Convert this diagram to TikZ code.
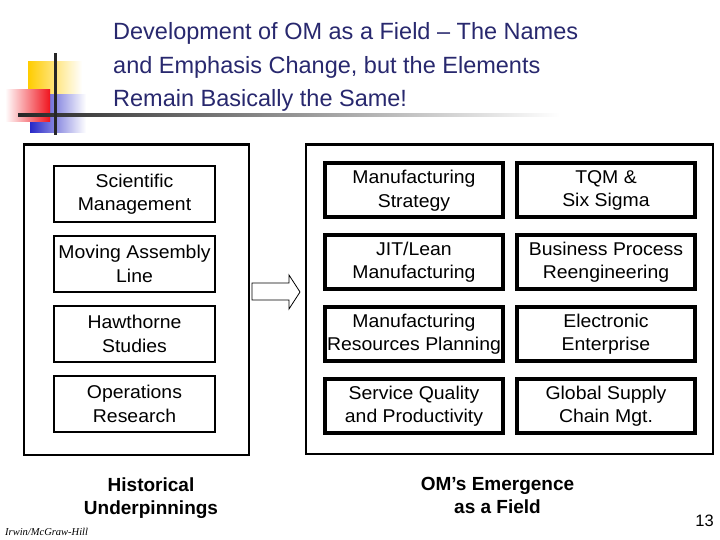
\documentclass[tikz,border=0pt]{standalone}
\usepackage{fontspec}
\setmainfont{Liberation Sans}
\newfontfamily\boxfont[FakeStretch=1.05]{Liberation Sans}
\newfontfamily\credfont{Liberation Serif}
\definecolor{titleblue}{RGB}{40,40,110}
\definecolor{logoyellow}{RGB}{255,204,0}
\definecolor{logored}{RGB}{240,20,30}
\definecolor{logoblue}{RGB}{40,40,200}
\begin{document}
\begin{tikzpicture}[x=1pt,y=-1pt,
  frame/.style={draw, line width=2.2pt},
  oldbox/.style={draw, line width=1.6pt, minimum width=161.5pt, minimum height=56.5pt,
    align=center, inner sep=0pt, font=\boxfont\fontsize{18.5}{23.5}\selectfont},
  newbox/.style={draw, line width=4pt, minimum width=178pt, minimum height=54pt,
    align=center, inner sep=0pt, font=\boxfont\fontsize{18.5}{23.5}\selectfont},
  titletext/.style={anchor=base west, inner sep=0pt, text=titleblue, font=\fontsize{23.5}{30}\selectfont},
  caption/.style={align=center, inner sep=0pt, font=\bfseries\fontsize{19}{23}\selectfont}]
\useasboundingbox[fill=white] (0,0) rectangle (720,540);

% logo
\shade[left color=logoyellow, right color=white] (28,62) rectangle (82,96);
\shade[left color=logoblue, right color=white] (30,95) rectangle (86,133);
\shade[left color=white, right color=logored] (5,90) rectangle (50,122);
\shade[left color=black!85, right color=white] (18,114) rectangle (560,117);
\fill[black!85] (53.5,53) rectangle (56.5,135);

% title
\node[titletext] (t1) at (113,40) {Development of OM as a Field -- The Names};
\node[titletext] (t2) at (113,73.5) {and Emphasis Change, but the Elements};
\node[titletext] (t3) at (113,107) {Remain Basically the Same!};

% frames
\draw[frame] (24,144.5) rectangle (249,455);
\draw[frame] (306,144.5) rectangle (713,454);

% historical boxes
\node[oldbox] (sm) at (134.5,194) {Scientific\\Management};
\node[oldbox] (mal) at (134.5,264) {Moving Assembly\\Line};
\node[oldbox] (hs) at (134.5,334) {Hawthorne\\Studies};
\node[oldbox] (or) at (134.5,404) {Operations\\Research};

% emergence boxes
\node[newbox] (ms) at (414,190.5) {Manufacturing\\Strategy};
\node[newbox] (tqm) at (606,190.5) {TQM \&\\Six Sigma};
\node[newbox] (jit) at (414,262) {JIT/Lean\\Manufacturing};
\node[newbox] (bpr) at (606,262) {Business Process\\Reengineering};
\node[newbox] (mrp) at (414,334) {Manufacturing\\Resources Planning};
\node[newbox] (ee) at (606,334) {Electronic\\Enterprise};
\node[newbox] (sqp) at (414,406) {Service Quality\\and Productivity};
\node[newbox] (gsc) at (606,406) {Global Supply\\Chain Mgt.};

% block arrow
\draw[line width=0.8pt, fill=white] (252,283) -- (289,283) -- (289,275) -- (300,292)
  -- (289,309) -- (289,300) -- (252,300) -- cycle;

% captions
\node[caption] (hist) at (151,498) {Historical\\Underpinnings};
\node[caption] (emer) at (497.5,495) {OM’s Emergence\\as a Field};
\node[anchor=base east, inner sep=0pt, font=\fontsize{16.5}{18}\selectfont] (pg) at (714,526) {13};
\node[anchor=base west, inner sep=0pt, font=\credfont\itshape\fontsize{10.5}{12}\selectfont] (cred) at (5,535) {Irwin/McGraw-Hill};
\end{tikzpicture}
\end{document}
